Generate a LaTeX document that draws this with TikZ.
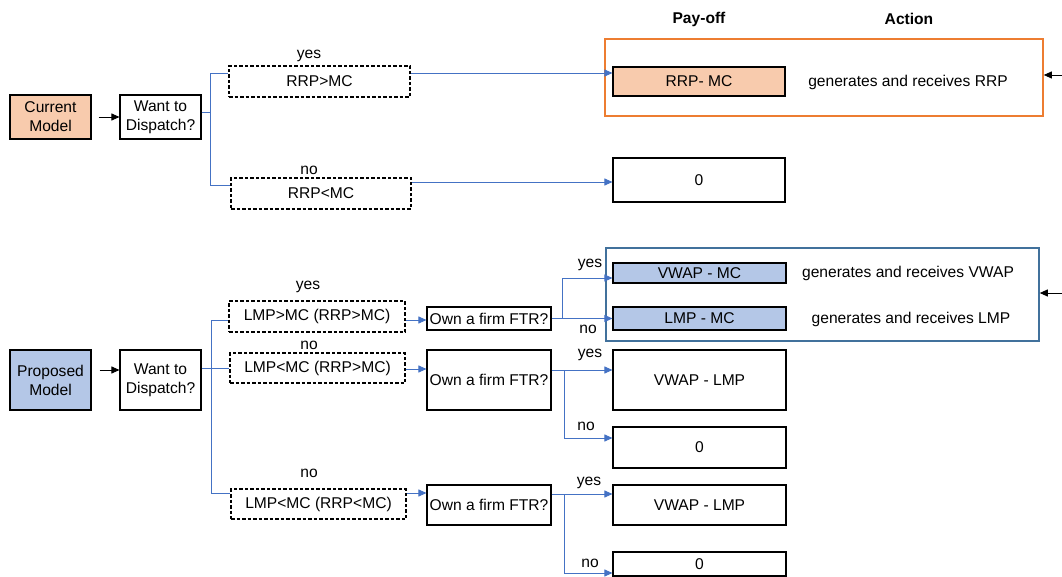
\documentclass[tikz,border=0pt]{standalone}
\usepackage{fontspec}
\setmainfont{Liberation Sans}
\usetikzlibrary{arrows.meta}
\definecolor{lblue}{HTML}{4472C4}
\definecolor{fblue}{HTML}{B4C7E7}
\definecolor{forange}{HTML}{F8CBAD}
\definecolor{lorange}{HTML}{ED7D31}
\definecolor{dblue}{HTML}{41719C}
\newcommand\myfs{\fontsize{15.6}{19}\selectfont}
\begin{document}
\begin{tikzpicture}[x=1pt,y=-1pt,font=\myfs,
  box/.style={draw=black, line width=1.1pt, inner sep=0pt, align=center},
  dbox/.style={box, dash pattern=on 3.5pt off 2pt},
  con/.style={draw=lblue, line width=0.9pt},
  arr/.style={con, -{Triangle[length=8pt,width=7pt]}},
  karr/.style={draw=black, line width=0.9pt, -{Triangle[length=8pt,width=7pt]}},
  lab/.style={inner sep=0pt},
  bigbox/.style={line width=1.6pt, inner sep=0pt}]
\useasboundingbox (0,0) rectangle (1062,577);

% headers
\node[lab, font=\myfs\bfseries] (hpay) at (699,19) {Pay-off};
\node[lab, font=\myfs\bfseries] (hact) at (909,19) {Action};

% ---------- current model ----------
\node[bigbox, draw=lorange, minimum width=438pt, minimum height=77pt] (obox) at (824,77.5) {};
\node[box, fill=forange, minimum width=81pt, minimum height=44pt] (cur) at (50.5,117) {Current\\Model};
\node[box, minimum width=81pt, minimum height=44pt] (want1) at (160.5,117) {Want to\\Dispatch?};
\node[dbox, minimum width=181pt, minimum height=31pt] (d1) at (319.5,81.5) {RRP>MC};
\node[dbox, minimum width=180pt, minimum height=31pt] (d2) at (321,193.5) {RRP<MC};
\node[lab] (ly1) at (309,56) {yes};
\node[lab] (ln1) at (309,170) {no};
\node[box, fill=forange, minimum width=172pt, minimum height=29pt] (rrpmc) at (699,81.5) {RRP- MC};
\node[lab] (g1) at (908,82) {generates and receives RRP};
\node[box, minimum width=172pt, minimum height=44pt] (zero1) at (699,180) {0};

\draw[karr] ([xshift=7pt]cur.east) -- (want1.west);
\coordinate (b1) at (210,112);
\draw[con] ([yshift=5pt]want1.east) -- (b1);
\draw[con] (b1) |- ([yshift=8.5pt]d1.west);
\draw[con] (b1) |- ([yshift=8.5pt]d2.west);
\coordinate (o1) at ([yshift=8.5pt]d1.east);
\draw[arr] (o1) -- (o1 -| rrpmc.west);
\coordinate (o2) at ([yshift=11.5pt]d2.east);
\draw[arr] (o2) -- (o2 -| zero1.west);
\coordinate (r1) at (1062,75);
\draw[karr] (r1) -- (r1 -| obox.east);

% ---------- proposed model ----------
\node[bigbox, draw=dblue, minimum width=433pt, minimum height=93pt] (bbox) at (822.5,294.5) {};
\node[box, fill=fblue, minimum width=81pt, minimum height=60pt] (prop) at (50.5,380) {Proposed\\Model};
\node[box, minimum width=81pt, minimum height=60pt] (want2) at (160.5,380) {Want to\\Dispatch?};
\node[dbox, minimum width=176pt, minimum height=31pt] (e1) at (317,316.5) {LMP>MC (RRP>MC)};
\node[dbox, minimum width=175pt, minimum height=30pt] (e2) at (317.5,368) {LMP<MC (RRP>MC)};
\node[dbox, minimum width=175pt, minimum height=30pt] (e3) at (318.5,504) {LMP<MC (RRP<MC)};
\node[lab] (ly2) at (308,287) {yes};
\node[lab] (ln2) at (309,345) {no};
\node[lab] (ln3) at (309,473) {no};

\node[box, minimum width=124pt, minimum height=23pt] (own1) at (489,318.5) {Own a firm FTR?};
\node[box, minimum width=124pt, minimum height=60pt] (own2) at (489,380) {Own a firm FTR?};
\node[box, minimum width=124pt, minimum height=40pt] (own3) at (489,505) {Own a firm FTR?};

\node[box, fill=fblue, minimum width=173pt, minimum height=20pt] (vwmc) at (699.5,273) {VWAP - MC};
\node[box, fill=fblue, minimum width=173pt, minimum height=23pt] (lmpmc) at (699.5,318.5) {LMP - MC};
\node[lab] (g2) at (908,273) {generates and receives VWAP};
\node[lab] (g3) at (911,319) {generates and receives LMP};
\node[box, minimum width=173pt, minimum height=60pt] (vl1) at (699.5,380) {VWAP - LMP};
\node[box, minimum width=173pt, minimum height=41pt] (zero2) at (699.5,447.5) {0};
\node[box, minimum width=173pt, minimum height=40pt] (vl2) at (699.5,505) {VWAP - LMP};
\node[box, minimum width=173pt, minimum height=24pt] (zero3) at (699.5,564) {0};

\node[lab] (ly3) at (590,265) {yes};
\node[lab] (ln4) at (588,329) {no};
\node[lab] (ly4) at (590,355) {yes};
\node[lab] (ln5) at (586,426) {no};
\node[lab] (ly5) at (589,483) {yes};
\node[lab] (ln6) at (590,563) {no};

\draw[karr] ([xshift=8pt,yshift=10pt]prop.east) -- ([yshift=10pt]want2.west);
\coordinate (b2) at (211,368);
\draw[con] ([yshift=12pt]want2.east) -- (e2.west);
\draw[con] (b2) |- ([yshift=-3.5pt]e1.west);
\draw[con] (b2) |- ([yshift=11pt]e3.west);

\coordinate (p1) at ([yshift=-3.5pt]e1.east);
\draw[arr] (p1) -- (p1 -| own1.west);
\coordinate (p2) at ([yshift=-1pt]e2.east);
\draw[arr] (p2) -- (p2 -| own2.west);
\coordinate (p3) at ([yshift=11pt]e3.east);
\draw[arr] (p3) -- (p3 -| own3.west);

\coordinate (c1) at (562,318.5);
\draw[arr] (own1.east) -- (lmpmc.west);
\draw[arr] (c1) |- ([yshift=-5pt]vwmc.west);

\coordinate (c2) at (564,370);
\draw[arr] ([yshift=10pt]own2.east) -- ([yshift=10pt]vl1.west);
\draw[arr] (c2) |- ([yshift=9.5pt]zero2.west);

\coordinate (c3) at (564,494);
\draw[arr] ([yshift=11pt]own3.east) -- ([yshift=11pt]vl2.west);
\draw[arr] (c3) |- ([yshift=-9pt]zero3.west);

\coordinate (r2) at (1062,293);
\draw[karr] (r2) -- (r2 -| bbox.east);
\end{tikzpicture}
\end{document}
